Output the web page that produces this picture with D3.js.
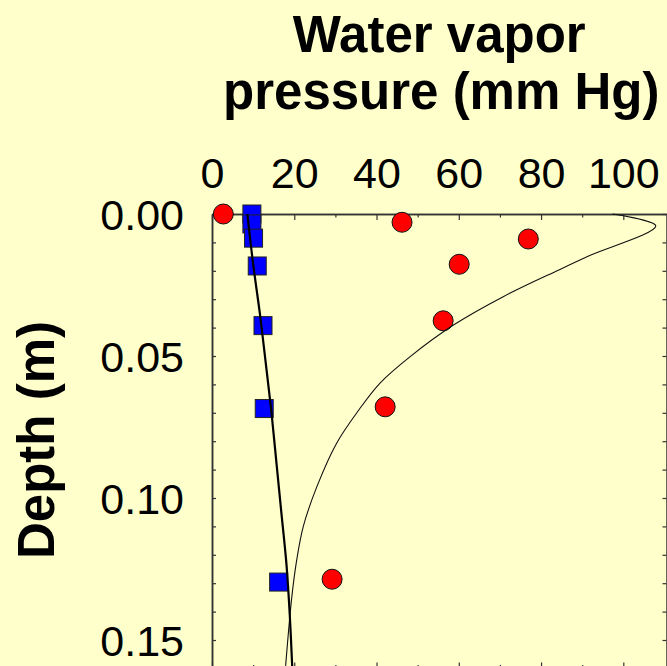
<!DOCTYPE html>
<html>
<head>
<meta charset="utf-8">
<script src="https://cdn.jsdelivr.net/npm/d3@7"></script>
<style>
  html, body { margin: 0; padding: 0; background: #FFFFCC; overflow: hidden; }
  svg { display: block; }
  text { font-family: "Liberation Sans", Arial, Helvetica, sans-serif; fill: #000; }
</style>
</head>
<body>
<svg id="chart" width="667" height="666"></svg>
<script>
// Measured water vapor pressure (mm Hg) against soil depth (m)
const redDepth  = [0, 0.0029, 0.0088, 0.0177, 0.0376, 0.0679, 0.1286];
const redVapor  = [2.75, 46.2, 76.9, 60.1, 56.2, 42.1, 29.2];

const blueDepth = [0, 0.0035, 0.0085, 0.0183, 0.0393, 0.0685, 0.1296];
const blueVapor = [9.7, 9.7, 10.1, 11.0, 12.4, 12.7, 16.2];

// Model profiles
const thickDepth = [0, 0.0176, 0.0352, 0.0529, 0.0705, 0.0881, 0.1057, 0.1233, 0.141, 0.1593];
const thickVapor = [8.6, 10.0, 11.65, 13.1, 14.5, 15.7, 16.9, 18.1, 18.9, 19.5];

const thinDepth = [0, 0.0042, 0.0147, 0.0195, 0.0291, 0.0391, 0.0503, 0.0596, 0.069, 0.0807, 0.096, 0.110, 0.1218, 0.1349, 0.1591];
const thinVapor = [97.4, 107.9, 91.7, 84.6, 70.8, 58.7, 48.1, 40.8, 35.7, 30.3, 25.5, 22.2, 20.6, 19.4, 17.9];

// Axis ticks
const xLabelTicks = [0, 20, 40, 60, 80, 100];
const xMinorTicks = [10, 30, 50, 70, 90];
const yLabelTicks = [0, 0.05, 0.10, 0.15];
const yMinorTicks = [0.01, 0.02, 0.03, 0.04, 0.06, 0.07, 0.08, 0.09, 0.11, 0.12, 0.13, 0.14];

const titleLines = ["Water vapor", "pressure (mm Hg)"];
const yTitle = "Depth (m)";

const svg = d3.select("#chart");
svg.append("rect").attr("width", 667).attr("height", 666).attr("fill", "#FFFFCC");

const x = d3.scaleLinear().domain([0, 110.5]).range([212, 666.5]);
const y = d3.scaleLinear().domain([0, 0.16]).range([214, 668.4]);

const axisColor = "#333";

function styleAxis(g) {
  g.selectAll(".domain").attr("stroke", axisColor).attr("stroke-width", 1.5);
  g.selectAll(".tick line").attr("stroke", axisColor).attr("stroke-width", 1.2);
  g.selectAll("text").attr("font-size", 43).attr("fill", "#000")
    .attr("font-family", '"Liberation Sans", Arial, sans-serif');
}

// Top axis with labels
const topAxisG = svg.append("g").attr("transform", `translate(0,${y(0)})`)
  .call(d3.axisTop(x).tickValues(xLabelTicks).tickSize(-6).tickSizeOuter(0)
    .tickPadding(26).tickFormat(d3.format("d")));
styleAxis(topAxisG);
const topMinorG = svg.append("g").attr("transform", `translate(0,${y(0)})`)
  .call(d3.axisTop(x).tickValues(xMinorTicks).tickSize(-3.5).tickSizeOuter(0).tickFormat(""));
styleAxis(topMinorG);

// Bottom axis (frame)
const bottomAxisG = svg.append("g").attr("transform", `translate(0,${y(0.16)})`)
  .call(d3.axisBottom(x).tickValues(xLabelTicks).tickSize(-6).tickSizeOuter(0).tickFormat(""));
styleAxis(bottomAxisG);
const bottomMinorG = svg.append("g").attr("transform", `translate(0,${y(0.16)})`)
  .call(d3.axisBottom(x).tickValues(xMinorTicks).tickSize(-3.5).tickSizeOuter(0).tickFormat(""));
styleAxis(bottomMinorG);

// Left axis with labels
const leftAxisG = svg.append("g").attr("transform", `translate(${x(0)},0)`)
  .call(d3.axisLeft(y).tickValues(yLabelTicks).tickSize(-4).tickSizeOuter(0)
    .tickPadding(28).tickFormat(d3.format(".2f")));
styleAxis(leftAxisG);
leftAxisG.selectAll("text").attr("dy", "0.36em");
const leftMinorG = svg.append("g").attr("transform", `translate(${x(0)},0)`)
  .call(d3.axisLeft(y).tickValues(yMinorTicks).tickSize(-4).tickSizeOuter(0).tickFormat(""));
styleAxis(leftMinorG);

// Right axis (frame)
const rightAxisG = svg.append("g").attr("transform", `translate(${x(110.5)},0)`)
  .call(d3.axisRight(y).tickValues(yLabelTicks.concat(yMinorTicks)).tickSize(-4).tickSizeOuter(0).tickFormat(""));
styleAxis(rightAxisG);

// Markers: blue squares
const sq = 18;
svg.append("g").selectAll("rect")
  .data(d3.range(blueDepth.length))
  .join("rect")
  .attr("x", i => x(blueVapor[i]) - sq / 2)
  .attr("y", i => y(blueDepth[i]) - sq / 2)
  .attr("width", sq).attr("height", sq)
  .attr("fill", "#0000FF").attr("stroke", "#222").attr("stroke-width", 1);

// Markers: red circles
svg.append("g").selectAll("circle")
  .data(d3.range(redDepth.length))
  .join("circle")
  .attr("cx", i => x(redVapor[i]))
  .attr("cy", i => y(redDepth[i]))
  .attr("r", 10)
  .attr("fill", "#FF0000").attr("stroke", "#111").attr("stroke-width", 1);

// Model curves
const line = d3.line().x(d => x(d[0])).y(d => y(d[1])).curve(d3.curveCatmullRom.alpha(0.5));
svg.append("path")
  .datum(thinVapor.map((v, i) => [v, thinDepth[i]]))
  .attr("d", line).attr("fill", "none").attr("stroke", "#111").attr("stroke-width", 1.1);
svg.append("path")
  .datum(thickVapor.map((v, i) => [v, thickDepth[i]]))
  .attr("d", line).attr("fill", "none").attr("stroke", "#000").attr("stroke-width", 2.2);

// Titles
const cx = (x(0) + x(110.5)) / 2;
svg.append("text").attr("x", cx).attr("y", 52).attr("text-anchor", "middle")
  .attr("font-size", 51).attr("font-weight", "bold").text(titleLines[0]);
svg.append("text").attr("x", cx + 2).attr("y", 109).attr("text-anchor", "middle")
  .attr("font-size", 51).attr("font-weight", "bold").text(titleLines[1]);

svg.append("text").attr("transform", "translate(54,440) rotate(-90)")
  .attr("text-anchor", "middle").attr("font-size", 51).attr("font-weight", "bold")
  .text(yTitle);
</script>
</body>
</html>
